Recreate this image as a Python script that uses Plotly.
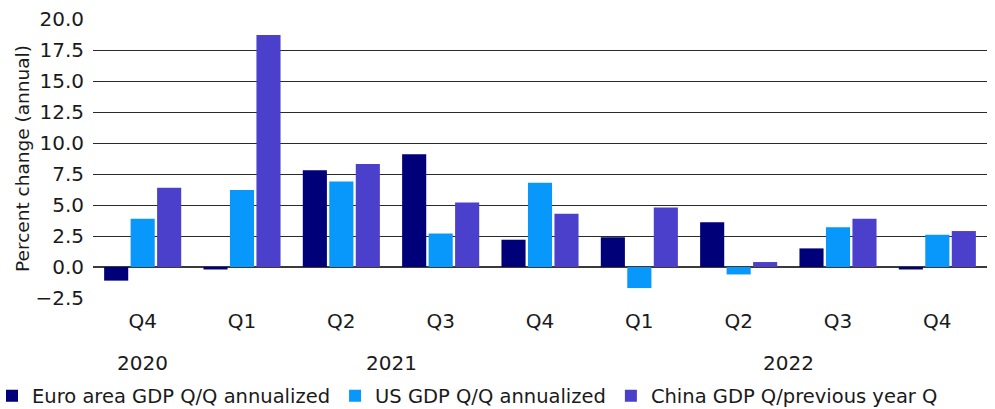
import plotly.graph_objects as go

quarters = ["Q4", "Q1", "Q2", "Q3", "Q4", "Q1", "Q2", "Q3", "Q4"]
years = ["2020", "2021", "2022"]
year_pos = [0, 2.5, 6.5]

euro = [-1.1, -0.2, 7.8, 9.1, 2.2, 2.4, 3.6, 1.5, -0.2]
us = [3.9, 6.2, 6.9, 2.7, 6.8, -1.7, -0.6, 3.2, 2.6]
china = [6.4, 18.7, 8.3, 5.2, 4.3, 4.8, 0.4, 3.9, 2.9]

names = ["Euro area GDP Q/Q annualized", "US GDP Q/Q annualized", "China GDP Q/previous year Q"]
colors = ["#000078", "#0897FA", "#4A40CB"]

x = list(range(len(quarters)))
FONT = "DejaVu Sans"
TXT = "#1a1a1a"

fig = go.Figure()
for vals, name, col in zip([euro, us, china], names, colors):
    fig.add_trace(go.Bar(x=x, y=vals, name=name, marker_color=col, marker_line_width=0))

for yr, pos in zip(years, year_pos):
    fig.add_annotation(x=pos, y=-0.233, xref="x", yref="paper", text=yr, showarrow=False,
                       xanchor="center", yanchor="middle", font=dict(family=FONT, size=20, color=TXT))

fig.update_layout(
    width=995, height=409,
    margin=dict(l=93, r=8, t=19, b=111, autoexpand=False),
    paper_bgcolor="white", plot_bgcolor="white",
    barmode="group", bargap=0.2, bargroupgap=0.09,
    font=dict(family=FONT, size=19, color=TXT),
    legend=dict(orientation="h", xref="paper", x=-101 / 894, xanchor="left",
                yref="paper", y=-98 / 279, yanchor="middle",
                font=dict(family=FONT, size=19.5, color=TXT), traceorder="normal",
                itemwidth=30),
    showlegend=True,
)
fig.update_xaxes(tickmode="array", tickvals=x, ticktext=quarters, range=[-0.5, 8.5],
                 showgrid=False, showline=False, zeroline=False, ticks="", automargin=False,
                 ticklabelstandoff=9, tickfont=dict(family=FONT, size=20, color=TXT))
fig.update_yaxes(range=[-2.5, 20], dtick=2.5, tickformat=".1f", showgrid=True, automargin=False,
                 gridcolor="#2a2a2a", gridwidth=1, zeroline=True, zerolinecolor="#3a3a3a",
                 zerolinewidth=2, showline=False, ticks="", ticklabelstandoff=8,
                 title=dict(text="Percent change (annual)", font=dict(family=FONT, size=18.5, color=TXT), standoff=0),
                 tickfont=dict(family=FONT, size=20, color=TXT))

fig.write_html("out.html")
